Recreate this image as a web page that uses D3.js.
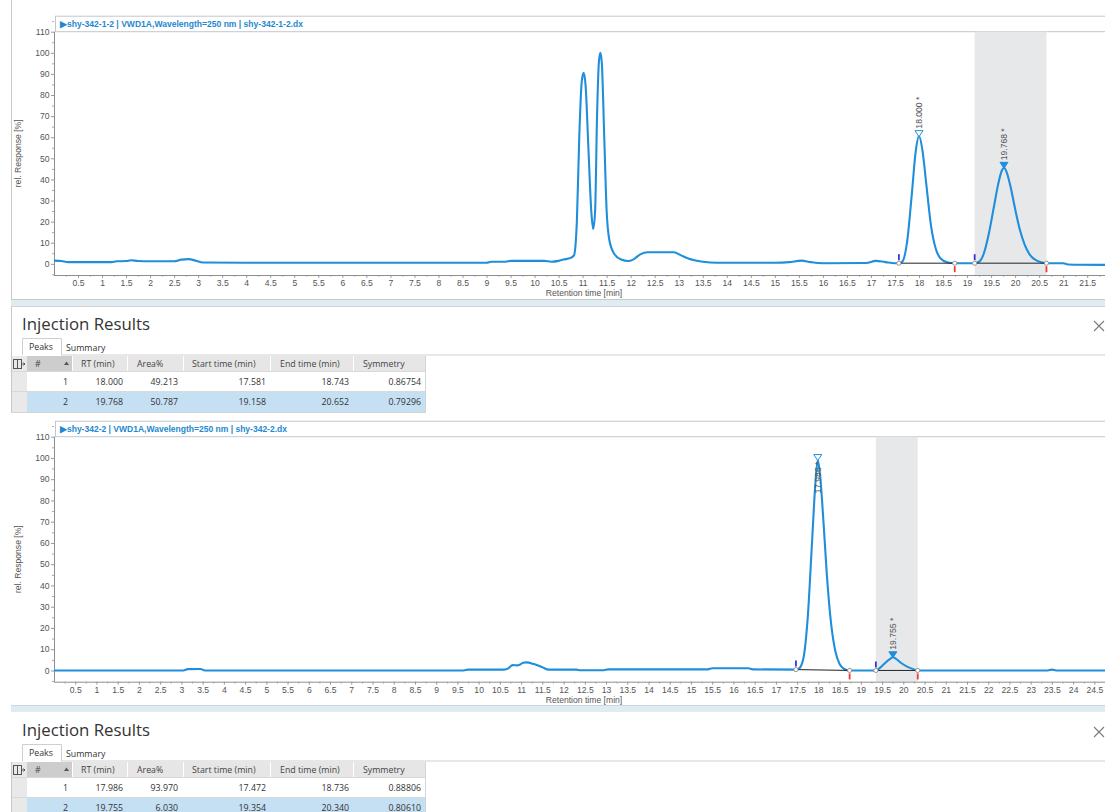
<!DOCTYPE html>
<html>
<head>
<meta charset="utf-8">
<script src="https://cdn.jsdelivr.net/npm/d3@7"></script>
<style>
    body { margin: 0; background: #fff; }
    svg { display: block; }
</style>
</head>
<body>
<script>
//Trace of injection shy-342-1-2 [time (min), rel. response (%)]
const trace1 = [
    [0.0, 1.5], [0.15, 1.3], [0.3, 0.8], [1.2, 0.8], [1.3, 1.2], [1.5, 1.3], [1.6, 1.7], [1.75, 1.3],
    [2.0, 1.2], [2.5, 1.2], [2.65, 2.0], [2.8, 2.2], [2.95, 1.5], [3.1, 0.6], [4.0, 0.5], [9.0, 0.5],
    [9.1, 1.0], [9.4, 1.0], [9.5, 1.4], [10.2, 1.4], [10.35, 1.0], [10.5, 1.4], [10.6, 2.0], [10.75, 2.8],
    [10.82, 4.0], [10.88, 20], [10.93, 60], [10.98, 86], [11.02, 90.5], [11.06, 85], [11.12, 55],
    [11.18, 25], [11.22, 16.5], [11.26, 25], [11.30, 70], [11.34, 96], [11.37, 100], [11.40, 95],
    [11.45, 60], [11.5, 25], [11.55, 12], [11.65, 5], [11.8, 2], [11.95, 1.3], [12.05, 2], [12.2, 4.5],
    [12.35, 5.5], [12.9, 5.5], [13.05, 4], [13.2, 2.5], [13.5, 1], [13.8, 0.5], [15.0, 0.5], [15.3, 0.8],
    [15.55, 1.5], [15.75, 0.8], [16.0, 0.3], [16.9, 0.4], [17.1, 1.4], [17.3, 0.8], [17.5, 0.3],
    [17.581, 0.3], [17.65, 1], [17.75, 10], [17.85, 33], [17.93, 53], [18.0, 60.5], [18.07, 54],
    [18.15, 38], [18.25, 18], [18.35, 7], [18.45, 2.5], [18.6, 0.6], [18.743, 0.3], [19.0, 0.3],
    [19.158, 0.3], [19.25, 1], [19.35, 5], [19.45, 14], [19.55, 26], [19.65, 38], [19.72, 44],
    [19.768, 45.5], [19.83, 43], [19.9, 37], [20.0, 26], [20.1, 16], [20.2, 9], [20.3, 4.5],
    [20.45, 1.5], [20.652, 0.3], [21.0, 0.3], [21.1, -0.3], [21.9, -0.5]
];
//Trace of injection shy-342-2
const trace2 = [
    [0.0, 0], [3.05, 0], [3.15, 0.6], [3.45, 0.7], [3.55, 0], [9.65, 0], [9.75, 0.4], [10.6, 0.4],
    [10.7, 1.0], [10.8, 2.5], [10.92, 2.4], [11.05, 3.6], [11.12, 3.8], [11.3, 3.0], [11.5, 1.5],
    [11.65, 0.4], [12.3, 0.4], [12.4, 0.1], [12.95, 0.1], [13.05, 0.5], [15.4, 0.5], [15.5, 1.0],
    [16.35, 1.0], [16.45, 0.5], [17.472, 0.4], [17.55, 1], [17.65, 6], [17.75, 25], [17.85, 60],
    [17.93, 88], [17.986, 99], [18.04, 92], [18.12, 70], [18.2, 45], [18.3, 22], [18.4, 9], [18.5, 3],
    [18.6, 0.8], [18.736, 0], [19.354, 0], [19.45, 1.2], [19.6, 4], [19.7, 5.6], [19.755, 6.2],
    [19.82, 5.6], [19.95, 3.5], [20.1, 1.7], [20.25, 0.5], [20.34, 0], [23.4, 0], [23.5, 0.4],
    [23.6, 0], [24.8, 0]
];

//Peak tables
const tableHeaders = ["#", "RT (min)", "Area%", "Start time (min)", "End time (min)", "Symmetry"];
const peaks1No = [1, 2];
const peaks1RT = ["18.000", "19.768"];
const peaks1Area = ["49.213", "50.787"];
const peaks1Start = ["17.581", "19.158"];
const peaks1End = ["18.743", "20.652"];
const peaks1Sym = ["0.86754", "0.79296"];
const peaks1Height = [60.5, 45.5];

const peaks2No = [1, 2];
const peaks2RT = ["17.986", "19.755"];
const peaks2Area = ["93.970", "6.030"];
const peaks2Start = ["17.472", "19.354"];
const peaks2End = ["18.736", "20.340"];
const peaks2Sym = ["0.88806", "0.80610"];
const peaks2Height = [99, 6.2];

const yTicks = [0, 10, 20, 30, 40, 50, 60, 70, 80, 90, 100, 110];

const W = 1105, H = 812;
const traceColor = "#1f8edb";
const chartFont = "'Liberation Sans', Arial, sans-serif";
const tableFont = "'Open Sans', 'Noto Sans', sans-serif";

let svg = d3.select("body").append("svg").attr("width", W).attr("height", H)
    .style("font-family", chartFont);

//Panels and separators
svg.append("line").attr("x1", 11.5).attr("x2", 11.5).attr("y1", 0).attr("y2", 300).attr("stroke", "#c8c8c8");
svg.append("line").attr("x1", 11).attr("x2", W).attr("y1", 299.5).attr("y2", 299.5).attr("stroke", "#c8c8c8");
svg.append("rect").attr("x", 11).attr("y", 300).attr("width", W - 11).attr("height", 6).attr("fill", "#e1ebf2");
svg.append("line").attr("x1", 11).attr("x2", W).attr("y1", 306.5).attr("y2", 306.5).attr("stroke", "#d4d4d4");
svg.append("line").attr("x1", 11.5).attr("x2", 11.5).attr("y1", 306).attr("y2", 413).attr("stroke", "#c8c8c8");
svg.append("rect").attr("x", 11).attr("y", 705).attr("width", W - 11).attr("height", 7).attr("fill", "#e1ebf2");
svg.append("line").attr("x1", 11).attr("x2", W).attr("y1", 705.5).attr("y2", 705.5).attr("stroke", "#cfd8df");

function valueAt(trace, t) {
    let i = d3.bisector(d => d[0]).left(trace, t);
    if (i <= 0) return trace[0][1];
    if (i >= trace.length) return trace[trace.length - 1][1];
    let a = trace[i - 1], b = trace[i];
    return a[1] + (b[1] - a[1]) * (t - a[0]) / (b[0] - a[0]);
}

function drawChart(opt) {
    let g = svg.append("g");
    let x = d3.scaleLinear().domain([0, opt.xMax]).range([54, W]);
    let y = d3.scaleLinear().domain([-5.3, 110]).range([opt.bottom, opt.top]);
    let clipId = "clip" + opt.id;

    g.append("clipPath").attr("id", clipId).append("rect")
        .attr("x", 54).attr("y", opt.top).attr("width", W - 54).attr("height", opt.bottom - opt.top);

    //Title bar
    g.append("rect").attr("x", 55.5).attr("y", opt.top - 15.5).attr("width", W).attr("height", 15.5)
        .attr("fill", "#fff").attr("stroke", "#c3c6cc");
    g.append("text").attr("x", 60).attr("y", opt.top - 4.5)
        .attr("font-size", "8.6px").attr("font-weight", "bold").attr("fill", "#1e88d0")
        .attr("textLength", opt.titleWidth).attr("lengthAdjust", "spacingAndGlyphs")
        .text("\u25B6" + opt.title);

    //Selected peak band
    let sel = opt.selected;
    g.append("rect")
        .attr("x", x(+opt.start[sel])).attr("y", opt.top)
        .attr("width", x(+opt.end[sel]) - x(+opt.start[sel])).attr("height", opt.bottom - opt.top)
        .attr("fill", "#e7e8ea");

    //Y axis
    let yAxis = g.append("g").attr("transform", "translate(54,0)")
        .call(d3.axisLeft(y).tickValues(yTicks).tickSize(3).tickPadding(1.5));
    g.append("g").attr("transform", "translate(54,0)")
        .call(d3.axisLeft(y).tickValues(yTicks.map(d => d + 5).concat([-5])).tickSize(2).tickFormat(""))
        .call(s => s.select(".domain").remove())
        .selectAll("line").attr("stroke", "#aaa");
    yAxis.select(".domain").remove();
    yAxis.selectAll("line").attr("stroke", "#999");
    yAxis.selectAll("text").attr("font-size", "8.6px").attr("fill", "#555").attr("font-family", chartFont);

    //X axis
    let xTicks = d3.range(0.5, opt.xMax, 0.5);
    let xAxis = g.append("g").attr("transform", `translate(0,${opt.bottom})`)
        .call(d3.axisBottom(x).tickValues(xTicks).tickSize(3).tickPadding(2).tickFormat(d3.format("~g")));
    g.append("g").attr("transform", `translate(0,${opt.bottom})`)
        .call(d3.axisBottom(x).tickValues(d3.range(0.25, opt.xMax, 0.5)).tickSize(2).tickFormat(""))
        .call(s => s.select(".domain").remove())
        .selectAll("line").attr("stroke", "#bbb");
    xAxis.select(".domain").remove();
    xAxis.selectAll("line").attr("stroke", "#999");
    xAxis.selectAll("text").attr("font-size", "8.6px").attr("fill", "#555").attr("font-family", chartFont);

    g.append("line").attr("x1", 54.5).attr("x2", 54.5).attr("y1", opt.top).attr("y2", opt.bottom)
        .attr("stroke", "#8e8e8e");
    g.append("line").attr("x1", 54).attr("x2", W).attr("y1", opt.bottom + 0.5).attr("y2", opt.bottom + 0.5)
        .attr("stroke", "#8e8e8e");

    g.append("text").attr("transform", `translate(21,${(opt.top + opt.bottom) / 2}) rotate(-90)`)
        .attr("text-anchor", "middle").attr("font-size", "8.6px").attr("fill", "#555")
        .text("rel. Response [%]");
    g.append("text").attr("x", 584).attr("y", opt.bottom + 21)
        .attr("text-anchor", "middle").attr("font-size", "8.6px").attr("fill", "#555")
        .text("Retention time [min]");

    //Trace
    let plot = g.append("g").attr("clip-path", `url(#${clipId})`);
    plot.append("path")
        .datum(opt.trace)
        .attr("fill", "none")
        .attr("stroke", traceColor)
        .attr("stroke-width", 2.1)
        .attr("stroke-linejoin", "round")
        .attr("d", d3.line().x(d => x(d[0])).y(d => y(d[1])).curve(d3.curveMonotoneX));

    //Integration baselines and markers
    opt.rt.forEach((rt, i) => {
        let s = +opt.start[i], e = +opt.end[i];
        let ys = y(valueAt(opt.trace, s)), ye = y(valueAt(opt.trace, e));
        plot.append("line").attr("x1", x(s)).attr("x2", x(e)).attr("y1", ys).attr("y2", ye)
            .attr("stroke", "#222").attr("stroke-width", 1);
        g.append("line").attr("x1", x(s)).attr("x2", x(s)).attr("y1", ys - 9).attr("y2", ys - 3)
            .attr("stroke", "#3434e0").attr("stroke-width", 1.8);
        g.append("line").attr("x1", x(e)).attr("x2", x(e)).attr("y1", ye + 3).attr("y2", ye + 9)
            .attr("stroke", "#ec3b34").attr("stroke-width", 1.8);
        [[s, ys], [e, ye]].forEach(p => {
            g.append("circle").attr("cx", x(p[0])).attr("cy", p[1]).attr("r", 2.1)
                .attr("fill", "#fff").attr("stroke", "#8a8a8a").attr("stroke-width", 0.9);
        });

        //Apex marker and label
        let cx = x(+rt), ty = y(opt.height[i]) - 2.5;
        g.append("path")
            .attr("d", `M${cx - 4},${ty - 3}L${cx + 4},${ty - 3}L${cx},${ty + 3}Z`)
            .attr("fill", i === sel ? traceColor : "#fff")
            .attr("stroke", traceColor).attr("stroke-width", 1);
        let below = ty - 40 < opt.top;
        g.append("text")
            .attr("transform", `translate(${cx + 3},${below ? ty + 4 : ty - 5}) rotate(-90)`)
            .attr("text-anchor", below ? "end" : "start")
            .attr("font-size", "8.6px").attr("fill", "#555")
            .text(rt + " *");
    });
}

function drawTable(opt) {
    let g = svg.append("g").attr("transform", `translate(0,${opt.dy})`).style("font-family", tableFont);
    let cols = [11, 27, 72, 127, 183, 270, 353, 426];

    g.append("text").attr("x", 22).attr("y", 330).attr("font-size", "16.8px").attr("fill", "#333")
        .text("Injection Results");
    //Close cross
    g.append("path").attr("d", "M1094,321L1104,331M1104,321L1094,331")
        .attr("stroke", "#7a7a7a").attr("stroke-width", 1.1);

    //Tabs
    g.append("path").attr("d", "M22.5,355V338.5H61.5V355").attr("fill", "#fff").attr("stroke", "#cfcfcf");
    g.append("line").attr("x1", 61.5).attr("x2", W).attr("y1", 355).attr("y2", 355).attr("stroke", "#cfcfcf");
    g.append("text").attr("x", 29).attr("y", 350).attr("font-size", "8.8px").attr("fill", "#333").text("Peaks");
    g.append("text").attr("x", 66).attr("y", 351).attr("font-size", "8.8px").attr("fill", "#333").text("Summary");

    //Header row
    let hy = 356, hh = 15;
    g.append("rect").attr("x", cols[0]).attr("y", hy).attr("width", cols[1] - cols[0]).attr("height", hh).attr("fill", "#e9e9e9");
    g.append("rect").attr("x", cols[1]).attr("y", hy).attr("width", cols[2] - cols[1]).attr("height", hh).attr("fill", "#cdcdcd");
    for (let c = 2; c < cols.length - 1; c++) {
        g.append("rect").attr("x", cols[c] + 1).attr("y", hy).attr("width", cols[c + 1] - cols[c] - 1)
            .attr("height", hh).attr("fill", "#e6e6e6");
    }
    //Column chooser icon
    g.append("rect").attr("x", 13.5).attr("y", 359.5).attr("width", 8).attr("height", 9)
        .attr("fill", "none").attr("stroke", "#555");
    g.append("line").attr("x1", 17.5).attr("x2", 17.5).attr("y1", 359.5).attr("y2", 368.5).attr("stroke", "#555");
    g.append("path").attr("d", "M21,364H25M23.5,362.5L25,364L23.5,365.5").attr("fill", "none").attr("stroke", "#555");
    //Sort glyph
    g.append("path").attr("d", "M64,365L66.5,361.5L69,365Z").attr("fill", "#555");

    let headX = [35, 81, 137, 192, 280, 363];
    tableHeaders.forEach((h, i) => {
        g.append("text").attr("x", headX[i]).attr("y", hy + 10.8).attr("font-size", "8.8px")
            .attr("fill", "#444").text(h);
    });

    //Rows
    let rowY = [371, 391], rowH = [20, 21];
    opt.no.forEach((n, r) => {
        let ry = rowY[r];
        g.append("rect").attr("x", cols[1]).attr("y", ry).attr("width", cols[7] - cols[1]).attr("height", rowH[r])
            .attr("fill", r === 1 ? "#c5dff3" : "#fff");
        g.append("rect").attr("x", cols[0]).attr("y", ry).attr("width", cols[1] - cols[0]).attr("height", rowH[r])
            .attr("fill", "#e9e9e9");
        g.append("line").attr("x1", cols[0]).attr("x2", cols[7]).attr("y1", ry + 0.5).attr("y2", ry + 0.5)
            .attr("stroke", "#d9d9d9");
        let vals = [n, opt.rt[r], opt.area[r], opt.start[r], opt.end[r], opt.sym[r]];
        let rightX = [68, 123, 178, 266, 349, 421];
        vals.forEach((v, i) => {
            g.append("text").attr("x", rightX[i]).attr("y", ry + 13.5).attr("text-anchor", "end")
                .attr("font-size", "8.8px").attr("fill", "#333").text(v);
        });
    });
    g.append("line").attr("x1", cols[0] + 0.5).attr("x2", cols[0] + 0.5).attr("y1", hy).attr("y2", 412)
        .attr("stroke", "#c8c8c8");
    g.append("line").attr("x1", cols[7] - 0.5).attr("x2", cols[7] - 0.5).attr("y1", hy).attr("y2", 412)
        .attr("stroke", "#d4d4d4");
    g.append("line").attr("x1", cols[0]).attr("x2", cols[7]).attr("y1", 412.5).attr("y2", 412.5)
        .attr("stroke", "#d4d4d4");
}

drawChart({
    id: 1, top: 31.7, bottom: 275, xMax: 21.87, trace: trace1,
    title: "shy-342-1-2 | VWD1A,Wavelength=250 nm | shy-342-1-2.dx", titleWidth: 243,
    rt: peaks1RT, start: peaks1Start, end: peaks1End, height: peaks1Height, selected: 1
});
drawTable({ dy: 0, no: peaks1No, rt: peaks1RT, area: peaks1Area, start: peaks1Start, end: peaks1End, sym: peaks1Sym });

drawChart({
    id: 2, top: 436.7, bottom: 681.7, xMax: 24.75, trace: trace2,
    title: "shy-342-2 | VWD1A,Wavelength=250 nm | shy-342-2.dx", titleWidth: 227,
    rt: peaks2RT, start: peaks2Start, end: peaks2End, height: peaks2Height, selected: 1
});
drawTable({ dy: 406, no: peaks2No, rt: peaks2RT, area: peaks2Area, start: peaks2Start, end: peaks2End, sym: peaks2Sym });
</script>
</body>
</html>
